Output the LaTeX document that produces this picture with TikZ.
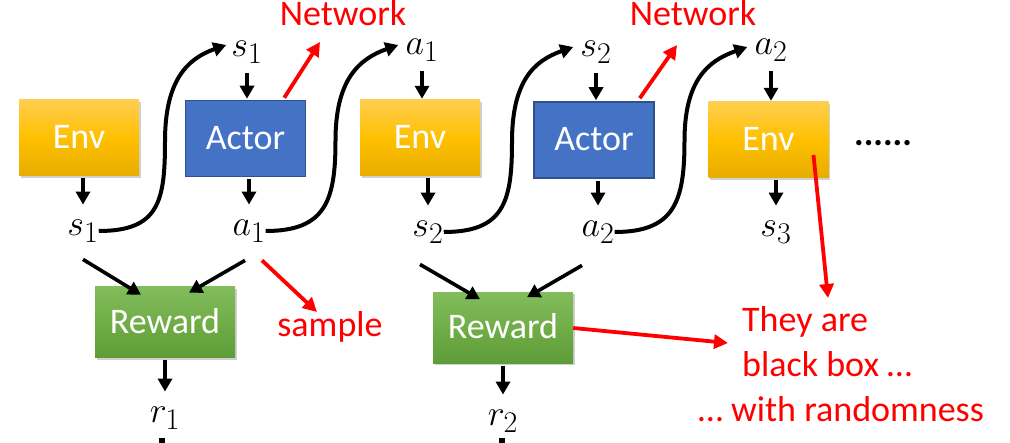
\documentclass[tikz,border=0pt]{standalone}
\usepackage{graphicx}
\usepackage{fontspec}
\newfontfamily\cfont{Carlito}
\usetikzlibrary{arrows.meta,calc,shadows}
\newcommand\mylab[1]{\scalebox{1.447}{$#1$}}
\definecolor{envtop}{RGB}{255,206,80}
\definecolor{envmid}{RGB}{255,192,0}
\definecolor{envbot}{RGB}{232,172,0}
\definecolor{actfill}{RGB}{68,114,196}
\definecolor{actdraw}{RGB}{47,82,143}
\definecolor{rewtop}{RGB}{130,188,92}
\definecolor{rewmid}{RGB}{112,173,71}
\definecolor{rewbot}{RGB}{94,156,56}
\definecolor{myred}{RGB}{255,0,0}
\begin{document}
\begin{tikzpicture}[x=1pt,y=-1pt,
  boxtext/.style={text=white, font=\cfont\fontsize{36}{40}\selectfont,
    text height=22pt, text depth=0pt, inner sep=0pt},
  shadowed/.style={drop shadow={shadow xshift=1.5pt, shadow yshift=-2pt, opacity=0.3, fill=black!60}},
  envbox/.style={boxtext, shadowed, minimum width=120pt, minimum height=76pt,
    top color=envtop, bottom color=envbot, middle color=envmid},
  actbox/.style={boxtext, minimum width=120pt, minimum height=76pt,
    fill=actfill, draw=actdraw, line width=1.5pt},
  rewbox/.style={boxtext, shadowed, minimum width=140pt, minimum height=71pt,
    top color=rewtop, bottom color=rewbot, middle color=rewmid},
  mlab/.style={inner sep=0pt, font=\Huge},
  rtext/.style={inner sep=0pt, text=myred, font=\cfont\fontsize{36}{40}\selectfont},
  arr/.style={line width=3.6pt, -{Triangle[length=13pt,width=14pt]}},
  curve/.style={arr, line width=4pt},
  tobox/.style={arr, shorten <=10pt, shorten >=1pt},
  frombox/.style={arr, shorten <=2pt, shorten >=15pt},
  rarr/.style={line width=3.8pt, draw=myred, -{Triangle[length=14pt,width=14pt]}, myred}
]
\fill[white] (0,0) rectangle (1010,443);
\useasboundingbox (0,0) rectangle (1010,443);

% boxes
\node[envbox] (env1) at (79,138) {Env};
\node[actbox] (actor1) at (245.5,138.5) {Actor};
\node[envbox] (env2) at (420,138) {Env};
\node[actbox] (actor2) at (594,140) {Actor};
\node[envbox] (env3) at (768.5,140) {Env};
\node[rewbox] (reward1) at (165,322.5) {Reward};
\node[rewbox] (reward2) at (503,328) {Reward};

% math labels
\node[mlab] (s1t) at (247,52) {\mylab{s_1}};
\node[mlab] (a1t) at (422,50) {\mylab{a_1}};
\node[mlab] (s2t) at (596,52) {\mylab{s_2}};
\node[mlab] (a2t) at (771,50) {\mylab{a_2}};
\node[mlab] (s1b) at (83,231) {\mylab{s_1}};
\node[mlab] (a1b) at (249,231) {\mylab{a_1}};
\node[mlab] (s2b) at (428,232) {\mylab{s_2}};
\node[mlab] (a2b) at (598,232) {\mylab{a_2}};
\node[mlab] (s3) at (776,232) {\mylab{s_3}};
\node[mlab] (r1) at (165,418) {\mylab{r_1}};
\node[mlab] (r2) at (503,421) {\mylab{r_2}};

% vertical arrows
\draw[frombox] (s1b.north |- env1.south) -- (s1b.north);
\draw[tobox] (s1t.south) -- (s1t.south |- actor1.north);
\draw[frombox] (a1b.north |- actor1.south) -- (a1b.north);
\draw[tobox] (a1t.south) -- (a1t.south |- env2.north);
\draw[frombox] (s2b.north |- env2.south) -- (s2b.north);
\draw[tobox] (s2t.south) -- (s2t.south |- actor2.north);
\draw[frombox] (a2b.north |- actor2.south) -- (a2b.north);
\draw[tobox] (a2t.south) -- (a2t.south |- env3.north);
\draw[frombox] (s3.north |- env3.south) -- (s3.north);
\draw[frombox] (r1.north |- reward1.south) -- (r1.north);
\draw[frombox] (r2.north |- reward2.south) -- (r2.north);

% S-curves
\draw[curve] (s1b.east) .. controls +(60,0) and +(0,60) .. ($(s1b.east)!0.5!(s1t.west)$)
  .. controls +(0,-60) and +(-40,14) .. ([xshift=-5pt,yshift=7pt]s1t.west);
\draw[curve] (a1b.east) .. controls +(60,0) and +(0,60) .. ($(a1b.east)!0.5!(a1t.west)$)
  .. controls +(0,-60) and +(-40,14) .. ([xshift=-7pt,yshift=5pt]a1t.west);
\draw[curve] (s2b.east) .. controls +(60,0) and +(0,60) .. ($(s2b.east)!0.5!(s2t.west)$)
  .. controls +(0,-60) and +(-40,14) .. ([xshift=-7pt,yshift=5pt]s2t.west);
\draw[curve] (a2b.east) .. controls +(60,0) and +(0,60) .. ($(a2b.east)!0.5!(a2t.west)$)
  .. controls +(0,-60) and +(-40,14) .. ([xshift=-7pt,yshift=3pt]a2t.west);

% diagonal arrows into rewards
\draw[arr] ([yshift=-17pt]s1b.south) -- ([xshift=-24pt,yshift=-8pt]reward1.north);
\draw[arr] ([xshift=-4pt,yshift=-18pt]a1b.south) -- ([xshift=24pt,yshift=-6pt]reward1.north);
\draw[arr] ([xshift=-8pt,yshift=-21pt]s2b.south) -- ([xshift=-23pt,yshift=-7pt]reward2.north);
\draw[arr] ([xshift=-16pt,yshift=-22pt]a2b.south) -- ([xshift=24pt,yshift=-5pt]reward2.north);

% red texts
\node[rtext, anchor=base] (net1) at (343,26) {Network};
\node[rtext, anchor=base] (net2) at (693,26) {Network};
\node[rtext, anchor=base] (sample) at (330,337) {sample};
\node[rtext, anchor=base west] (they1) at (742,332) {They are};
\node[rtext, anchor=base west] (they2) at (742,377) {black box …};
\node[rtext, anchor=base west] (they3) at (698,422) {… with randomness};

% red arrows
\coordinate (n1tip) at (320,42);
\coordinate (n2tip) at (677,45);
\coordinate (stip) at (317,312);
\coordinate (t1tip) at (728,343);
\coordinate (t2tip) at (828,298);
\draw[rarr] ([xshift=-22pt,yshift=2pt]actor1.north east) -- (n1tip);
\draw[rarr] ([xshift=-15pt,yshift=3pt]actor2.north east) -- (n2tip);
\draw[rarr] ([xshift=13pt,yshift=-18pt]a1b.south) -- (stip);
\draw[rarr] (reward2.east) -- (t1tip);
\draw[rarr] ([xshift=45pt,yshift=-15pt]env3.center) -- (t2tip);

% ellipsis
\node[anchor=base west, inner sep=0pt, font=\cfont\bfseries\fontsize{36}{40}\selectfont] (dots) at (854,146) {......};

% clipped marks at bottom edge
\fill (159,438) rectangle (165,443);
\fill (499,438) rectangle (505,443);
\end{tikzpicture}
\end{document}
